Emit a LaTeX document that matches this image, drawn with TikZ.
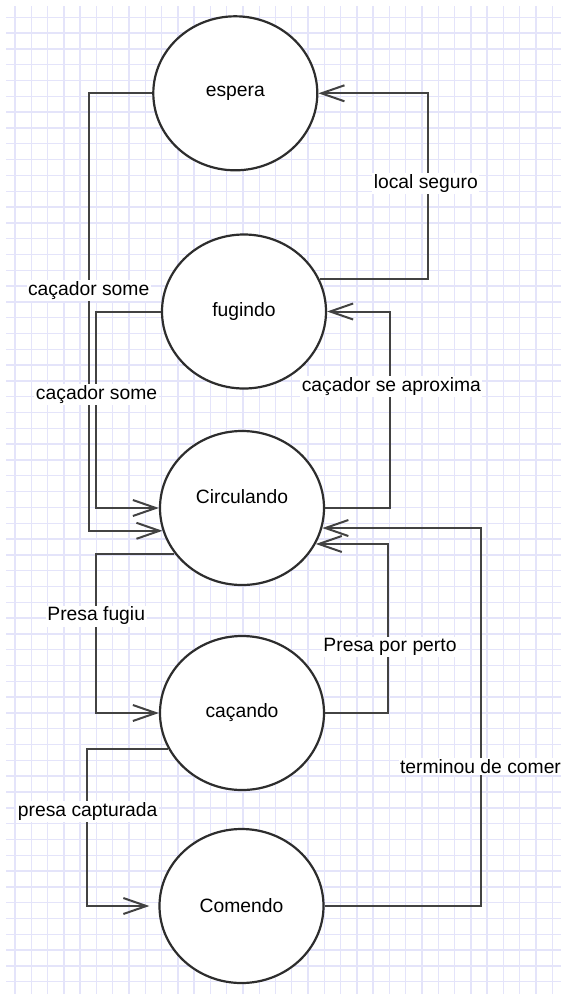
\documentclass[tikz,border=0pt]{standalone}
\usepackage{fontspec}
\setmainfont{Liberation Sans}
\usetikzlibrary{arrows.meta,calc,shapes.geometric,positioning}
\definecolor{gridblue}{RGB}{228,228,250}
\definecolor{strokegray}{RGB}{45,45,45}

\begin{document}
\begin{tikzpicture}[x=1pt,y=-1pt, statenode/.style={ellipse,draw=strokegray,line width=2.2pt,fill=white,minimum width=164pt,minimum height=154pt,inner sep=0pt,font=\fontsize{19.3}{22}\selectfont}, gridline/.style={gridblue,line width=1.4pt}, flowarrow/.style={-{Straight Barb[length=23pt,width=16pt]},line width=2pt,draw=strokegray!90}, edgelabel/.style={fill=white,inner sep=1.5pt,font=\fontsize{19.3}{22}\selectfont}]

 \fill[white] (0,0) rectangle (561,994);
 \useasboundingbox (0,0) rectangle (561,994);

 % grid
 \foreach \k in {0,...,33}
   \draw[gridline] ({15+16.28*\k},6) -- ({15+16.28*\k},994);
 \foreach \k in {0,...,61}
   \draw[gridline] (6,{17.3+15.81*\k}) -- (561,{17.3+15.81*\k});

 % states
 \node[statenode] (espera) at (235.3,93.3) {espera};
 \node[statenode] (fugindo) at (244,311.5) {fugindo};
 \node[statenode, label={[yshift=11pt,font=\fontsize{19.3}{22}\selectfont]center:Circulando}] (circulando) at (242,508) {};
 \node[statenode] (cacando) at (242,713) {caçando};
 \node[statenode] (comendo) at (241.5,906) {Comendo};

 % lanes of the connectors
 \coordinate (laneEsp) at (88.7,0);
 \coordinate (laneFug) at (95.5,0);
 \coordinate (laneSeg) at (427.5,0);
 \coordinate (laneApr) at (390,0);
 \coordinate (laneFgu) at (95.5,0);
 \coordinate (lanePer) at (388,0);
 \coordinate (laneCom) at (481,0);
 \coordinate (laneCap) at (87,0);

    \draw[flowarrow] (espera.west) -- (espera.west -| laneEsp) |- (circulando.196);
    \draw[flowarrow] (fugindo.west) -- (fugindo.west -| laneFug) |- (circulando.west);
    \draw[flowarrow] (fugindo.23) -- (fugindo.23 -| laneSeg) |- (espera.east);
    \draw[flowarrow] (circulando.east) -- (circulando.east -| laneApr) |- (fugindo.east);
    \draw[flowarrow] (cacando.east) -- (cacando.east -| lanePer) |- (circulando.334);
    \draw[flowarrow] (comendo.east) -- (comendo.east -| laneCom) |- (circulando.346);
    \draw[flowarrow] (circulando.214) -- (circulando.214 -| laneFgu) |- (cacando.west);
    \draw[flowarrow,shorten >=9pt] (cacando.206) -- (cacando.206 -| laneCap) |- (comendo.west);

 % labels
	\node[edgelabel] (lblSome) at (88.7,290.7) {caçador some};
	\node[edgelabel] (lblSomeB) at (96.6,394.3) {caçador some};
	\node[edgelabel] (lblSeguro) at (425.8,183.3) {local seguro};
	\node[edgelabel] (lblAprox) at (391.4,386.7) {caçador se aproxima};
	\node[edgelabel] (lblFugiu) at (96.2,616) {Presa fugiu};
	\node[edgelabel] (lblPerto) at (390,646.7) {Presa por perto};
	\node[edgelabel] (lblComer) at (480.5,766.7) {terminou de comer};
	\node[edgelabel] (lblCapt) at (87.7,811.7) {presa capturada};
\end{tikzpicture}
\end{document}
